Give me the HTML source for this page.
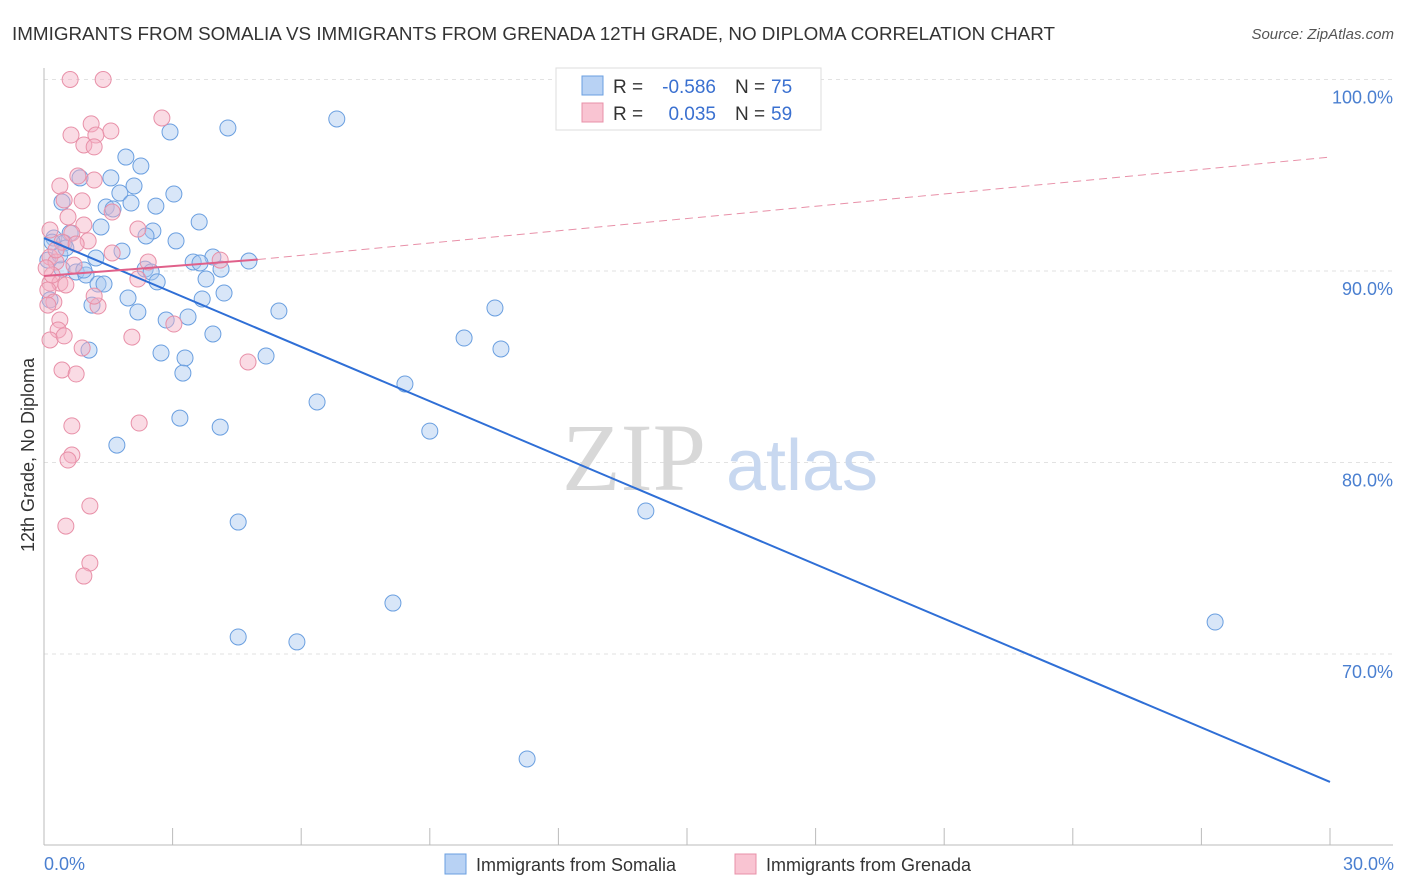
<!DOCTYPE html>
<html><head><meta charset="utf-8"><style>
body{margin:0;background:#fff;font-family:"Liberation Sans",sans-serif;}
svg{display:block}
</style></head><body>
<svg id="chart" width="1406" height="892" xmlns="http://www.w3.org/2000/svg">
<text x="12" y="40" font-size="18.5" fill="#333" textLength="1043" lengthAdjust="spacingAndGlyphs">IMMIGRANTS FROM SOMALIA VS IMMIGRANTS FROM GRENADA 12TH GRADE, NO DIPLOMA CORRELATION CHART</text>
<text x="1394" y="39" font-size="15" fill="#555" font-style="italic" text-anchor="end">Source: ZipAtlas.com</text>
<g id="grid"></g>
<g>
<text x="634" y="490" font-size="96" fill="#d8d8d8" font-family="Liberation Serif,serif" text-anchor="middle">ZIP</text>
<text x="802" y="490" font-size="72" fill="#c8d8f0" text-anchor="middle">atlas</text>
</g>
<g id="axes"></g>
<g id="pts"></g>
<g id="lines"></g>
<text transform="translate(34,455) rotate(-90)" font-size="18" fill="#333" text-anchor="middle">12th Grade, No Diploma</text>
<text x="44" y="870" font-size="18" fill="#4a7fd0">0.0%</text>
<text x="1394" y="870" font-size="18" fill="#4a7fd0" text-anchor="end">30.0%</text>
<g>
<rect x="556" y="68" width="265" height="62" fill="#fff" stroke="#ddd"/>
<rect x="582" y="76" width="21" height="19" fill="#b8d2f4" stroke="#6a9fe0"/>
<rect x="582" y="103" width="21" height="19" fill="#f9c4d2" stroke="#e890a8"/>
<text x="613" y="93" font-size="19" fill="#333">R =</text>
<text x="716" y="93" font-size="19" fill="#3a70d0" text-anchor="end">-0.586</text>
<text x="735" y="93" font-size="19" fill="#333">N =</text>
<text x="771" y="93" font-size="19" fill="#3a70d0">75</text>
<text x="613" y="120" font-size="19" fill="#333">R =</text>
<text x="716" y="120" font-size="19" fill="#3a70d0" text-anchor="end">0.035</text>
<text x="735" y="120" font-size="19" fill="#333">N =</text>
<text x="771" y="120" font-size="19" fill="#3a70d0">59</text>
</g>
<g>
<rect x="445" y="854" width="21" height="20" fill="#b8d2f4" stroke="#6a9fe0"/>
<text x="476" y="871" font-size="18" fill="#333">Immigrants from Somalia</text>
<rect x="735" y="854" width="21" height="20" fill="#f9c4d2" stroke="#e890a8"/>
<text x="766" y="871" font-size="18" fill="#333">Immigrants from Grenada</text>
</g>
</svg>
<script>
const yTicks=[100,90,80,70];
const yTickLabels=["100.0%","90.0%","80.0%","70.0%"];
const xTicks=[0,3,6,9,12,15,18,21,24,27,30];
const somaliaX=[6.83,4.29,2.94,1.91,2.26,0.84,1.56,2.10,1.77,3.03,0.42,1.45,2.03,2.61,1.61,3.62,1.33,2.54,2.38,3.08,0.23,0.61,0.47,1.82,1.21,3.94,4.78,3.48,3.64,4.13,2.36,2.50,0.42,0.75,0.98,2.64,3.78,1.26,1.40,1.96,4.20,3.69,1.12,2.19,5.48,10.52,2.85,3.36,3.94,9.80,10.66,1.05,2.73,3.29,5.18,3.24,8.42,6.37,3.17,9.00,4.11,1.70,14.04,4.53,8.14,27.32,4.53,5.90,11.27,0.14,0.09,0.37,0.19,0.51,0.93];
const somaliaY=[97.94,97.47,97.26,95.95,95.48,94.86,94.86,94.44,94.07,94.02,93.60,93.34,93.55,93.39,93.24,92.56,92.30,92.09,91.83,91.57,91.72,91.98,91.46,91.04,90.68,90.73,90.52,90.47,90.42,90.10,90.10,89.95,90.10,89.95,89.79,89.43,89.58,89.32,89.32,88.59,88.85,88.54,88.22,87.86,87.91,88.07,87.44,87.60,86.71,86.50,85.93,85.87,85.72,85.46,85.56,84.67,84.10,83.16,82.32,81.64,81.85,80.91,77.47,76.89,72.66,71.67,70.89,70.63,64.52,88.49,90.57,90.84,91.51,91.20,90.05];
const grenadaX=[0.61,1.38,2.75,1.10,1.56,0.63,1.21,0.93,1.17,0.79,1.17,0.47,0.89,0.56,0.93,0.14,0.65,1.03,0.42,0.75,1.59,2.19,0.14,2.43,4.11,0.28,0.70,2.19,0.14,0.37,0.51,0.09,1.26,0.23,0.37,3.03,0.33,2.05,0.14,0.89,4.76,0.42,0.75,0.65,2.22,0.65,0.56,1.07,0.51,1.07,0.93,0.09,0.19,0.05,0.28,1.17,0.37,1.59,0.47];
const grenadaY=[100.0,100.0,97.99,97.68,97.31,97.10,97.10,96.58,96.48,94.96,94.75,93.71,93.66,92.82,92.40,92.14,91.98,91.57,91.51,91.41,90.94,92.19,90.73,90.47,90.57,90.47,90.31,89.58,89.37,89.37,89.27,89.01,88.17,88.38,87.44,87.23,86.92,86.55,86.40,85.98,85.25,84.83,84.62,81.91,82.06,80.39,80.13,77.73,76.68,74.75,74.07,88.22,89.79,90.16,91.10,88.69,94.44,93.08,86.61];
const somaliaTrend=[[0,91.72],[30,63.32]];
const grenadaTrend=[[0,89.74],[4.99,90.60],[30,95.95]];
const NS="http://www.w3.org/2000/svg";
const X0=44,X1=1330;
function sx(v){return X0+(v/30)*(X1-X0);}
function sy(v){return 79.5+(100-v)*19.15;}
function mk(tag,attrs,parent){const e=document.createElementNS(NS,tag);for(const k in attrs)e.setAttribute(k,attrs[k]);parent.appendChild(e);return e;}
const grid=document.getElementById('grid'),axes=document.getElementById('axes'),pts=document.getElementById('pts'),lines=document.getElementById('lines');
yTicks.forEach((t,i)=>{
 const l=mk('line',{x1:X0,x2:1393,y1:sy(t),y2:sy(t),stroke:'#e2e2e2','stroke-dasharray':'4,4'},grid);
 
 
 const tx=mk('text',{x:1393,y:sy(t)+24,'font-size':18,fill:'#4a7fd0','text-anchor':'end'},grid);
 tx.textContent=yTickLabels[i];
 
 
});
const ya=mk('line',{x1:X0,x2:X0,y1:68,y2:845,stroke:'#bbb'},axes);


const xa=mk('line',{x1:X0,x2:1393,y1:845,y2:845,stroke:'#bbb'},axes);


xTicks.forEach(t=>{
 const l=mk('line',{x1:sx(t),x2:sx(t),y1:828,y2:845,stroke:'#bbb'},axes);
 
 
});
function dots(xs,ys,fill,stroke,name){
 xs.forEach((x,i)=>{
  const c=mk('circle',{cx:sx(x),cy:sy(ys[i]),r:8,fill:fill,'fill-opacity':0.45,stroke:stroke,'stroke-width':1},pts);
  
  
 });
}
dots(somaliaX,somaliaY,'#a8c8f0','#6a9fe0','somalia');
dots(grenadaX,grenadaY,'#f5b0c4','#e890a8','grenada');
const bl=mk('line',{x1:sx(somaliaTrend[0][0]),y1:sy(somaliaTrend[0][1]),x2:sx(somaliaTrend[1][0]),y2:sy(somaliaTrend[1][1]),stroke:'#2f6fd6','stroke-width':2},lines);


const pl=mk('line',{x1:sx(grenadaTrend[0][0]),y1:sy(grenadaTrend[0][1]),x2:sx(grenadaTrend[1][0]),y2:sy(grenadaTrend[1][1]),stroke:'#e0608a','stroke-width':2},lines);


const pd=mk('line',{x1:sx(grenadaTrend[1][0]),y1:sy(grenadaTrend[1][1]),x2:sx(grenadaTrend[2][0]),y2:sy(grenadaTrend[2][1]),stroke:'#e890a8','stroke-width':1,'stroke-dasharray':'8,5'},lines);


</script>
</body></html>
